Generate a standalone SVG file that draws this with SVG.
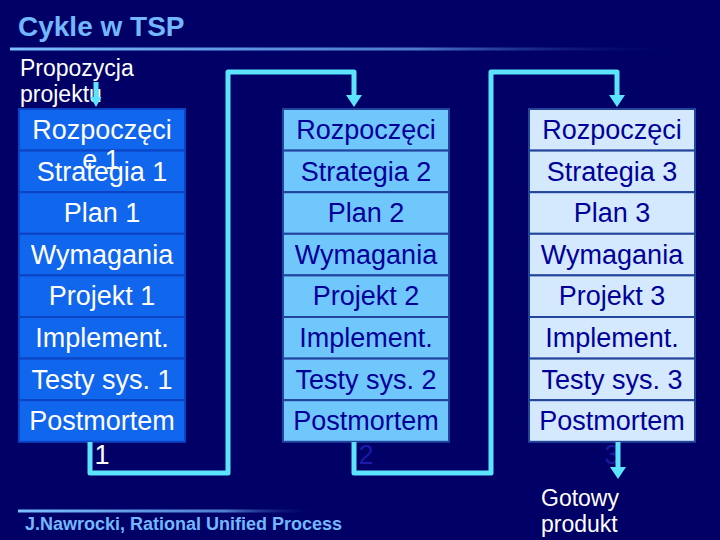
<svg xmlns="http://www.w3.org/2000/svg" width="720" height="540" viewBox="0 0 720 540">
<defs>
<linearGradient id="fadeTop" x1="0" y1="0" x2="1" y2="0">
<stop offset="0" stop-color="#7cc0ff"/>
<stop offset="0.6" stop-color="#5f98e6" stop-opacity="0.8"/>
<stop offset="1" stop-color="#000066" stop-opacity="0"/>
</linearGradient>
<linearGradient id="fadeBot" x1="0" y1="0" x2="1" y2="0">
<stop offset="0" stop-color="#7cc0ff"/>
<stop offset="0.7" stop-color="#4f7fd0"/>
<stop offset="1" stop-color="#000066" stop-opacity="0.2"/>
</linearGradient>
<marker id="arr" viewBox="0 0 12 16" refX="0" refY="8" markerWidth="12" markerHeight="16" markerUnits="userSpaceOnUse" orient="auto">
<path d="M0,0 L12,8 L0,16 z" fill="#5ce4ff"/>
</marker>
<marker id="arrS" viewBox="0 0 10 11" refX="0" refY="5.5" markerWidth="10" markerHeight="11" markerUnits="userSpaceOnUse" orient="auto">
<path d="M0,0 L10,5.5 L0,11 z" fill="#5ce4ff"/>
</marker>
</defs>
<style>
.t{font-family:"Liberation Sans",Arial,sans-serif}
.cell{font-size:27px;text-anchor:middle}
.c1 rect{fill:#1166ee;stroke:#0b44c4;stroke-width:2}
.c2 rect{fill:#70c7fc;stroke:#22439f;stroke-width:2}
.c3 rect{fill:#d4e9fd;stroke:#23469c;stroke-width:2}
.c1 text{fill:#ffffff}
.c2 text,.c3 text{fill:#000099}
.wire{fill:none;stroke:#5ce4ff;stroke-width:5;stroke-linejoin:round}
.lbl{fill:#ffffff;font-size:23px}
</style>
<rect width="720" height="540" fill="#000066"/>
<g id="title">
<text class="t" x="18" y="36" font-size="28" font-weight="bold" fill="#73b8ff">Cykle w TSP</text>
<rect x="10" y="47.5" width="680" height="3" fill="url(#fadeTop)"/>
</g>
<g id="start">
<text class="t lbl" x="20" y="76">Propozycja</text>
<text class="t lbl" x="20" y="102">projektu</text>
</g>
<g id="cycle1" class="c1 t cell">
<rect x="19" y="109" width="166" height="41.6"/>
<rect x="19" y="150.6" width="166" height="41.6"/>
<rect x="19" y="192.2" width="166" height="41.6"/>
<rect x="19" y="233.8" width="166" height="41.6"/>
<rect x="19" y="275.4" width="166" height="41.6"/>
<rect x="19" y="317" width="166" height="41.6"/>
<rect x="19" y="358.6" width="166" height="41.6"/>
<rect x="19" y="400.2" width="166" height="41.6"/>
<text x="102" y="139">Rozpoczęci</text>
<text x="102" y="181">Strategia 1</text>
<text x="101" y="169">e 1</text>
<text x="102" y="222">Plan 1</text>
<text x="102" y="264">Wymagania</text>
<text x="102" y="305">Projekt 1</text>
<text x="102" y="347">Implement.</text>
<text x="102" y="389">Testy sys. 1</text>
<text x="102" y="430">Postmortem</text>
<text x="102" y="464">1</text>
</g>
<g id="cycle2" class="c2 t cell">
<rect x="283" y="109" width="166" height="41.6"/>
<rect x="283" y="150.6" width="166" height="41.6"/>
<rect x="283" y="192.2" width="166" height="41.6"/>
<rect x="283" y="233.8" width="166" height="41.6"/>
<rect x="283" y="275.4" width="166" height="41.6"/>
<rect x="283" y="317" width="166" height="41.6"/>
<rect x="283" y="358.6" width="166" height="41.6"/>
<rect x="283" y="400.2" width="166" height="41.6"/>
<text x="366" y="139">Rozpoczęci</text>
<text x="366" y="181">Strategia 2</text>
<text x="366" y="222">Plan 2</text>
<text x="366" y="264">Wymagania</text>
<text x="366" y="305">Projekt 2</text>
<text x="366" y="347">Implement.</text>
<text x="366" y="389">Testy sys. 2</text>
<text x="366" y="430">Postmortem</text>
<text x="366" y="464" style="fill:#1a1aa8">2</text>
</g>
<g id="cycle3" class="c3 t cell">
<rect x="529" y="109" width="166" height="41.6"/>
<rect x="529" y="150.6" width="166" height="41.6"/>
<rect x="529" y="192.2" width="166" height="41.6"/>
<rect x="529" y="233.8" width="166" height="41.6"/>
<rect x="529" y="275.4" width="166" height="41.6"/>
<rect x="529" y="317" width="166" height="41.6"/>
<rect x="529" y="358.6" width="166" height="41.6"/>
<rect x="529" y="400.2" width="166" height="41.6"/>
<text x="612" y="139">Rozpoczęci</text>
<text x="612" y="181">Strategia 3</text>
<text x="612" y="222">Plan 3</text>
<text x="612" y="264">Wymagania</text>
<text x="612" y="305">Projekt 3</text>
<text x="612" y="347">Implement.</text>
<text x="612" y="389">Testy sys. 3</text>
<text x="612" y="430">Postmortem</text>
<text x="612" y="464" style="fill:#1a1a9a">3</text>
</g>
<g id="end">
<text class="t lbl" x="541" y="506">Gotowy</text>
<text class="t lbl" x="541" y="532">produkt</text>
</g>
<g id="connectors">
<path class="wire" d="M96,82 V97" stroke-width="4" marker-end="url(#arrS)"/>
<path class="wire" d="M90,442 V473 H228 V72 H354 V95" marker-end="url(#arr)"/>
<path class="wire" d="M354,442 V473 H491 V72 H617 V95" marker-end="url(#arr)"/>
<path class="wire" d="M618,442 V467" marker-end="url(#arr)"/>
</g>
<g id="footer">
<rect x="18" y="509.5" width="296" height="3" fill="url(#fadeBot)"/>
<text class="t" x="25" y="530" font-size="18" font-weight="bold" fill="#73b8ff">J.Nawrocki, Rational Unified Process</text>
</g>
</svg>
